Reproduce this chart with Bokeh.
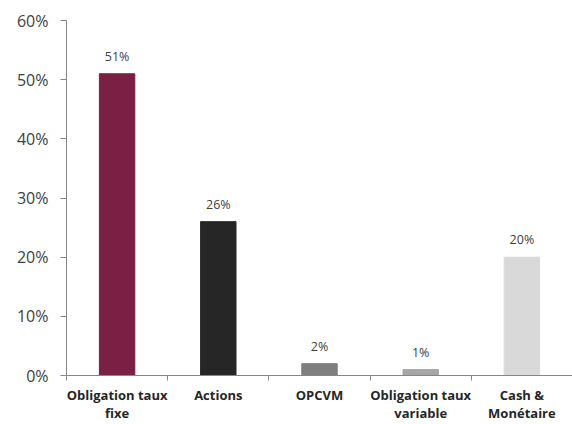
from bokeh.plotting import figure
from bokeh.models import FixedTicker, NumeralTickFormatter, ColumnDataSource, Range1d
from bokeh.core.properties import value
from bokeh.embed import file_html
from bokeh.resources import INLINE

categories = ["Obligation taux\nfixe", "Actions", "OPCVM", "Obligation taux\nvariable", "Cash &\nMonétaire"]
shares = [0.51, 0.26, 0.02, 0.01, 0.20]
share_labels = ["51%", "26%", "2%", "1%", "20%"]
colors = ["#7B1F44", "#262626", "#7F7F7F", "#A6A6A6", "#D9D9D9"]
y_ticks = [0, 0.1, 0.2, 0.3, 0.4, 0.5, 0.6]

n = len(categories)
xs = [i + 0.5 for i in range(n)]
src = ColumnDataSource(dict(x=xs, top=shares, color=colors, label=share_labels))

p = figure(width=572, height=424, output_backend="svg", toolbar_location=None,
           x_range=Range1d(0, n), y_range=Range1d(0, 0.6),
           min_border_left=66, min_border_right=0, min_border_top=20, min_border_bottom=30)
p.outline_line_color = None
p.xgrid.visible = False
p.ygrid.visible = False
p.background_fill_color = "white"
p.border_fill_color = "white"

p.vbar(x="x", top="top", width=0.35, color="color", source=src)
p.text(x="x", y="top", text="label", source=src, text_align="center", text_baseline="bottom",
       y_offset=-9, text_font=value("Open Sans"), text_font_size="12.5px", text_color="#404040")

# x axis
p.xaxis.ticker = FixedTicker(ticks=xs, minor_ticks=list(range(n + 1)))
p.xaxis.major_label_overrides = {x: c for x, c in zip(xs, categories)}
p.xaxis.major_tick_line_color = None
p.xaxis.major_tick_out = 0
p.xaxis.major_tick_in = 0
p.xaxis.minor_tick_in = 0
p.xaxis.minor_tick_out = 5
p.xaxis.minor_tick_line_color = "#868686"
p.xaxis.axis_line_color = "#868686"
p.xaxis.major_label_text_font = "Open Sans"
p.xaxis.major_label_text_font_style = "bold"
p.xaxis.major_label_text_font_size = "13px"
p.xaxis.major_label_text_color = "#262626"
p.xaxis.major_label_standoff = 5
p.xaxis.major_label_text_line_height = 1.0

# y axis
p.yaxis.ticker = FixedTicker(ticks=y_ticks)
p.yaxis.formatter = NumeralTickFormatter(format="0%")
p.yaxis.minor_tick_line_color = None
p.yaxis.major_tick_in = 0
p.yaxis.major_tick_out = 6
p.yaxis.major_tick_line_color = "#868686"
p.yaxis.axis_line_color = "#868686"
p.yaxis.major_label_text_font = "Open Sans"
p.yaxis.major_label_text_font_size = "16px"
p.yaxis.major_label_text_color = "#404040"
p.yaxis.major_label_standoff = 12

open("out.html", "w").write(file_html(p, INLINE))
